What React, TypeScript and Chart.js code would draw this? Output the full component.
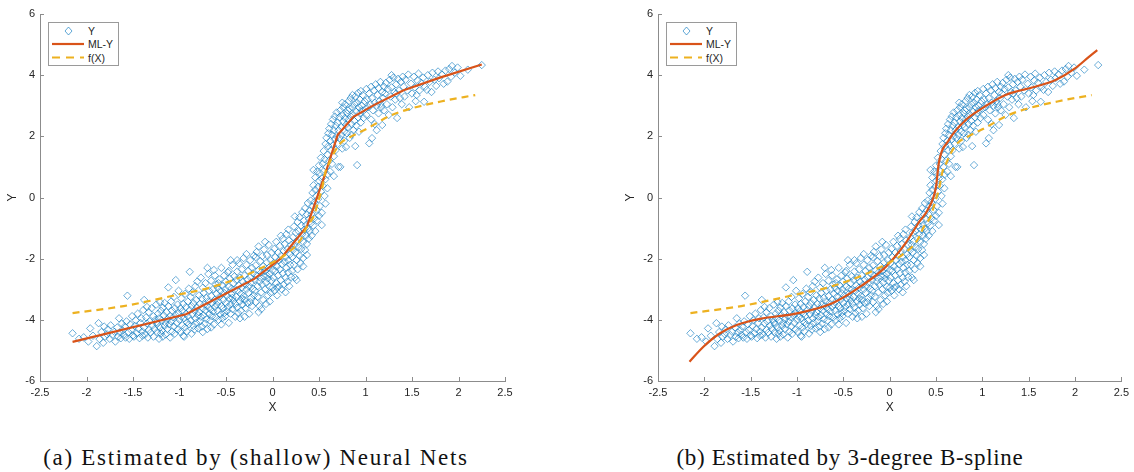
import React, { useEffect, useRef } from "react";
import { Chart, registerables } from "chart.js";

Chart.register(...registerables);

// ---------- data ----------
const xTickValues = [-2.5, -2, -1.5, -1, -0.5, 0, 0.5, 1, 1.5, 2, 2.5];
const yTickValues = [-6, -4, -2, 0, 2, 4, 6];

// observed sample (X, Y) – shared by both panels
const observedXY: [number, number][] = [
  [-2.15,-4.44],[-2.08,-4.62],[-2.03,-4.57],[-1.98,-4.71],[-1.96,-4.28],[-1.93,-4.52],[-1.89,-4.86],[-1.87,-4.11],[-1.86,-4.63],[-1.84,-4.40],[-1.82,-4.75],[-1.81,-4.22],[-1.80,-4.55],[-1.78,-4.47],
  [-1.77,-4.31],[-1.75,-4.62],[-1.74,-4.18],[-1.72,-4.50],[-1.70,-4.39],[-1.69,-4.71],[-1.67,-4.25],[-1.66,-4.55],[-1.65,-3.95],[-1.64,-4.42],[-1.63,-4.60],[-1.62,-4.12],[-1.61,-4.35],[-1.60,-4.49],
  [-1.59,-4.22],[-1.58,-4.58],[-1.57,-4.05],[-1.56,-3.21],[-1.55,-4.40],[-1.54,-4.62],[-1.53,-4.15],[-1.52,-4.33],[-1.51,-3.88],[-1.50,-4.51],[-1.49,-4.55],[-1.48,-4.20],[-1.47,-4.02],[-1.46,-4.44],[-1.45,-3.80],[-1.44,-4.30],[-1.43,-4.60],[-1.42,-4.10],[-1.41,-3.95],[-1.40,-4.38],[-1.40,-4.52],[-1.39,-3.68],
  [-1.38,-3.35],[-1.38,-4.25],[-1.37,-4.48],[-1.36,-3.92],[-1.35,-4.12],[-1.34,-4.58],[-1.33,-3.75],[-1.33,-4.33],[-1.32,-4.05],[-1.31,-4.42],[-1.30,-3.62],[-1.29,-4.18],[-1.28,-4.55],[-1.28,-3.88],[-1.27,-4.30],[-1.26,-4.00],[-1.25,-3.50],[-1.24,-4.40],[-1.24,-4.14],[-1.23,-3.80],[-1.22,-4.62],[-1.22,-3.95],[-1.21,-4.25],[-1.20,-3.70],[-1.20,-4.45],[-1.21,-3.42],[-1.25,-4.08],[-1.35,-3.58],
  [-1.19,-4.02],[-1.19,-4.35],[-1.18,-3.60],[-1.18,-4.55],[-1.17,-3.85],[-1.16,-4.20],[-1.16,-3.45],[-1.15,-4.10],[-1.15,-4.48],[-1.14,-3.75],[-1.13,-3.98],[-1.13,-4.30],[-1.12,-2.94],[-1.12,-3.55],[-1.11,-4.15],[-1.10,-3.88],[-1.10,-4.58],[-1.09,-3.40],[-1.09,-4.05],[-1.08,-3.70],[-1.08,-4.38],[-1.07,-3.92],[-1.06,-3.25],[-1.06,-4.22],[-1.05,-3.62],[-1.05,-4.45],[-1.04,-2.70],[-1.04,-3.85],[-1.03,-4.10],[-1.02,-3.50],[-1.02,-4.32],[-1.01,-3.78],[-1.01,-3.05],[-1.00,-4.00],
  [-0.99,-3.62],[-0.99,-4.40],[-0.98,-3.90],[-0.98,-3.30],[-0.97,-4.18],[-0.97,-3.72],[-0.96,-4.52],[-0.96,-3.48],[-0.95,-4.55],[-0.95,-3.95],[-0.94,-3.15],[-0.94,-4.25],[-0.93,-3.80],[-0.93,-3.58],[-0.92,-4.08],[-0.92,-4.38],[-0.91,-3.40],[-0.91,-3.88],[-0.90,-2.98],[-0.90,-4.15],[-0.89,-2.43],[-0.89,-3.68],[-0.88,-4.02],[-0.88,-3.25],[-0.87,-4.45],[-0.87,-3.55],[-0.86,-3.82],[-0.86,-3.10],[-0.85,-4.20],[-0.85,-3.45],[-0.84,-3.70],[-0.84,-4.32],[-0.83,-2.90],[-0.83,-3.95],[-0.82,-3.35],[-0.82,-4.10],[-0.81,-3.60],[-0.81,-2.75],[-0.80,-3.85],[-0.80,-4.28],
  [-0.79,-3.20],[-0.79,-3.75],[-0.78,-4.05],[-0.78,-3.48],[-0.77,-2.62],[-0.77,-3.90],[-0.76,-3.30],[-0.76,-4.22],[-0.75,-3.62],[-0.75,-2.95],[-0.74,-3.85],[-0.74,-3.12],[-0.73,-4.12],[-0.73,-3.50],[-0.72,-2.80],[-0.72,-3.70],[-0.71,-3.98],[-0.71,-3.28],[-0.70,-3.55],[-0.70,-4.30],[-0.69,-2.50],[-0.69,-3.40],[-0.68,-3.80],[-0.68,-3.05],[-0.67,-3.65],[-0.67,-4.02],[-0.66,-3.22],[-0.66,-2.72],[-0.65,-3.88],[-0.65,-3.45],[-0.64,-3.00],[-0.64,-3.72],[-0.63,-2.37],[-0.63,-4.15],[-0.62,-3.35],[-0.62,-3.58],[-0.61,-2.85],[-0.61,-3.92],[-0.60,-3.15],[-0.60,-3.50],[-0.70,-2.30],[-0.75,-4.40],[-0.66,-4.25],[-0.62,-2.55],
  [-0.59,-3.70],[-0.59,-2.95],[-0.58,-3.40],[-0.58,-4.00],[-0.57,-2.68],[-0.57,-3.25],[-0.56,-3.82],[-0.56,-3.05],[-0.55,-2.30],[-0.55,-3.55],[-0.54,-3.95],[-0.54,-2.88],[-0.53,-3.35],[-0.53,-3.62],[-0.52,-2.55],[-0.52,-3.12],[-0.51,-3.88],[-0.51,-3.00],[-0.50,-3.45],[-0.50,-2.75],[-0.49,-3.72],[-0.49,-3.20],[-0.48,-2.45],[-0.48,-3.58],[-0.47,-2.92],[-0.47,-4.10],[-0.46,-3.30],[-0.46,-2.65],[-0.45,-3.50],[-0.45,-3.80],[-0.44,-2.98],[-0.44,-3.15],[-0.43,-2.20],[-0.43,-3.65],[-0.42,-2.80],[-0.42,-3.38],[-0.41,-3.02],[-0.41,-2.58],[-0.40,-3.48],[-0.40,-3.90],[-0.55,-4.15],[-0.45,-2.05],[-0.52,-3.78],[-0.58,-2.80],[-0.43,-3.28],[-0.47,-2.40],
  [-0.39,-2.70],[-0.39,-3.25],[-0.38,-3.60],[-0.38,-2.42],[-0.37,-3.05],[-0.37,-3.78],[-0.36,-2.88],[-0.36,-2.15],[-0.35,-3.40],[-0.35,-2.62],[-0.34,-3.15],[-0.34,-3.70],[-0.33,-2.35],[-0.33,-2.95],[-0.32,-3.50],[-0.32,-2.75],[-0.31,-3.22],[-0.31,-1.98],[-0.30,-2.55],[-0.30,-3.35],[-0.29,-2.85],[-0.29,-3.62],[-0.28,-2.20],[-0.28,-3.00],[-0.27,-2.68],[-0.27,-3.45],[-0.26,-2.40],[-0.26,-3.12],[-0.25,-2.90],[-0.25,-3.80],[-0.24,-2.05],[-0.24,-2.60],[-0.23,-3.28],[-0.23,-2.78],[-0.22,-3.55],[-0.22,-2.30],[-0.21,-2.98],[-0.21,-2.48],[-0.20,-3.20],[-0.20,-1.90],[-0.35,-3.95],[-0.28,-1.85],[-0.30,-3.90],[-0.24,-3.42],[-0.38,-2.05],[-0.33,-3.30],
  [-0.19,-2.70],[-0.19,-3.05],[-0.18,-2.22],[-0.18,-3.42],[-0.17,-2.55],[-0.17,-1.78],[-0.16,-2.90],[-0.16,-3.25],[-0.15,-2.38],[-0.15,-1.60],[-0.14,-2.75],[-0.14,-3.55],[-0.13,-2.08],[-0.13,-2.62],[-0.12,-3.10],[-0.12,-2.45],[-0.11,-1.92],[-0.11,-2.85],[-0.10,-3.35],[-0.10,-2.25],[-0.09,-2.58],[-0.09,-1.70],[-0.08,-3.00],[-0.08,-2.40],[-0.07,-2.78],[-0.07,-3.48],[-0.06,-2.12],[-0.06,-1.88],[-0.05,-2.65],[-0.05,-3.20],[-0.04,-2.30],[-0.04,-1.55],[-0.03,-2.92],[-0.03,-2.50],[-0.02,-2.05],[-0.02,-3.12],[-0.01,-2.72],[-0.01,-1.80],[0.00,-2.38],[0.00,-2.95],[-0.15,-3.75],[-0.08,-1.45],[-0.12,-3.65],[-0.03,-3.40],[-0.18,-1.95],[-0.06,-2.55],
  [0.01,-2.15],[0.01,-2.62],[0.02,-1.68],[0.02,-3.05],[0.03,-2.40],[0.03,-1.95],[0.04,-2.80],[0.04,-1.45],[0.05,-2.25],[0.05,-3.20],[0.06,-1.80],[0.06,-2.55],[0.07,-2.05],[0.07,-2.90],[0.08,-1.58],[0.08,-2.35],[0.09,-2.70],[0.09,-1.90],[0.10,-2.18],[0.10,-3.00],[0.11,-1.35],[0.11,-2.48],[0.12,-1.75],[0.12,-2.85],[0.13,-2.10],[0.13,-1.52],[0.14,-2.62],[0.14,-1.95],[0.15,-2.30],[0.15,-1.20],[0.16,-2.75],[0.16,-1.70],[0.17,-2.05],[0.17,-2.45],[0.18,-1.40],[0.18,-2.90],[0.19,-1.85],[0.19,-2.20],[0.20,-1.55],[0.20,-2.60],[0.05,-2.95],[0.14,-3.10],[0.09,-1.25],[0.17,-1.05],
  [0.21,-1.95],[0.21,-2.40],[0.22,-1.30],[0.22,-1.72],[0.23,-2.20],[0.23,-0.95],[0.24,-1.55],[0.24,-2.62],[0.25,-1.80],[0.25,-1.15],[0.26,-2.05],[0.26,-1.42],[0.27,-0.80],[0.27,-2.35],[0.28,-1.62],[0.28,-1.10],[0.29,-1.90],[0.29,-0.65],[0.30,-1.35],[0.30,-2.15],[0.31,-0.92],[0.31,-1.68],[0.32,-1.20],[0.32,-0.48],[0.33,-1.98],[0.33,-1.45],[0.34,-0.75],[0.34,-1.05],[0.35,-1.72],[0.35,-0.35],[0.36,-1.25],[0.36,-0.90],[0.37,-1.52],[0.37,-0.55],[0.38,-1.02],[0.38,-0.18],[0.39,-1.35],[0.39,-0.70],[0.40,-0.42],[0.40,-1.10],[0.26,-2.70],[0.33,-2.25],[0.37,-1.88],[0.24,-0.62],
  [0.41,-0.85],[0.41,-0.10],[0.42,-0.55],[0.42,-1.25],[0.43,0.15],[0.43,-0.30],[0.44,-0.92],[0.44,0.40],[0.45,-0.15],[0.45,-0.68],[0.46,0.25],[0.46,0.65],[0.47,-0.40],[0.47,0.05],[0.48,0.85],[0.48,-0.75],[0.49,0.35],[0.49,-0.05],[0.50,1.05],[0.50,0.55],[0.51,-0.28],[0.51,0.80],[0.52,0.20],[0.52,1.30],[0.53,0.62],[0.53,-0.50],[0.54,1.10],[0.54,0.38],[0.55,1.52],[0.55,0.85],[0.56,0.05],[0.56,1.25],[0.57,1.75],[0.57,0.60],[0.58,1.00],[0.58,1.95],[0.59,1.40],[0.59,0.30],[0.60,1.68],[0.60,2.10],[0.46,-1.10],[0.53,-0.90],[0.57,-0.20],[0.44,0.90],[0.50,-0.60],[0.59,0.75],
  [0.61,1.20],[0.61,2.25],[0.62,1.85],[0.62,0.85],[0.63,1.55],[0.63,2.40],[0.64,2.05],[0.64,1.10],[0.65,1.70],[0.65,2.55],[0.66,2.20],[0.66,1.35],[0.67,1.90],[0.67,2.65],[0.68,2.35],[0.68,1.55],[0.69,2.00],[0.69,2.78],[0.70,2.45],[0.70,1.75],[0.71,1.00],[0.71,2.20],[0.72,2.62],[0.72,1.95],[0.73,2.85],[0.73,1.00],[0.74,2.30],[0.74,2.05],[0.75,2.70],[0.75,1.60],[0.76,2.48],[0.76,2.95],[0.77,2.15],[0.77,1.85],[0.78,2.60],[0.78,3.05],[0.79,2.38],[0.79,1.65],[0.80,2.75],[0.80,2.10],[0.66,0.70],[0.75,3.10],
  [0.81,2.85],[0.81,2.30],[0.82,3.15],[0.82,2.55],[0.83,1.95],[0.83,2.90],[0.84,2.65],[0.84,3.25],[0.85,2.40],[0.85,2.05],[0.86,2.95],[0.86,3.35],[0.87,2.70],[0.87,2.20],[0.88,3.05],[0.88,2.50],[0.89,1.68],[0.89,3.30],[0.90,2.80],[0.90,2.35],[0.91,1.06],[0.91,3.10],[0.92,2.62],[0.92,3.42],[0.93,2.95],[0.93,2.15],[0.94,3.20],[0.94,2.75],[0.95,3.48],[0.95,2.45],[0.96,3.00],[0.96,2.85],[0.97,3.35],[0.98,2.60],[0.99,3.15],[1.00,2.90],
  [1.01,3.55],[1.01,2.70],[1.02,3.20],[1.03,2.95],[1.04,1.77],[1.04,3.40],[1.05,3.05],[1.06,3.62],[1.06,2.55],[1.07,1.94],[1.07,3.25],[1.08,2.85],[1.09,3.50],[1.10,3.10],[1.10,2.40],[1.11,3.70],[1.12,3.00],[1.13,3.35],[1.14,2.75],[1.14,3.58],[1.15,3.15],[1.16,3.78],[1.17,2.95],[1.18,2.37],[1.18,3.45],[1.19,3.25],[1.20,3.62],[1.20,2.85],[1.12,2.20],[1.16,3.05],
  [1.21,3.40],[1.22,3.75],[1.23,3.05],[1.24,3.55],[1.25,2.70],[1.26,3.85],[1.27,3.30],[1.28,3.60],[1.29,2.95],[1.30,3.92],[1.31,3.45],[1.32,3.20],[1.33,3.70],[1.34,2.60],[1.35,3.88],[1.36,3.50],[1.37,3.25],[1.38,3.78],[1.39,3.05],[1.40,3.95],[1.33,3.40],[1.28,4.00],
  [1.41,3.62],[1.42,3.30],[1.43,3.85],[1.45,3.50],[1.46,4.02],[1.47,2.95],[1.49,3.72],[1.50,3.40],[1.52,3.95],[1.53,3.60],[1.54,3.15],[1.56,3.82],[1.57,4.05],[1.58,3.50],[1.60,3.75],[1.55,3.35],
  [1.62,3.92],[1.63,3.13],[1.64,3.62],[1.66,3.52],[1.67,4.00],[1.69,3.78],[1.71,3.45],[1.72,4.08],[1.74,3.85],[1.76,3.65],[1.78,4.12],[1.79,3.90],
  [1.82,4.02],[1.84,3.72],[1.86,4.15],[1.88,3.79],[1.90,4.20],[1.92,3.95],[1.93,4.30],[1.96,4.08],[1.99,4.25],[2.02,3.98],[2.10,4.18],[2.25,4.33],
];

// ML-Y estimated by shallow neural nets
const nnX = [-2.15, -0.93, -0.5, -0.2, 0.09, 0.37, 0.57, 0.70, 0.87, 1.09, 1.41, 1.80, 2.25];
const nnY = [-4.72, -3.82, -3.14, -2.67, -1.99, -0.95, 0.80, 2.04, 2.64, 3.02, 3.51, 3.92, 4.35];

// ML-Y estimated by 3-degree B-spline
const splineX = [-2.16, -2.01, -1.83, -1.65, -1.40, -1.0, -0.62, -0.29, -0.04, 0.17, 0.32, 0.41, 0.50, 0.53, 0.64, 0.82, 1.0, 1.25, 1.57, 1.79, 2.0, 2.15, 2.24];
const splineY = [-5.37, -4.88, -4.44, -4.17, -3.97, -3.79, -3.46, -2.86, -2.26, -1.50, -0.79, -0.41, 0.35, 1.12, 1.88, 2.53, 2.92, 3.35, 3.62, 3.84, 4.22, 4.60, 4.82];

// true f(X)
const fX = [-2.15, -1.6, -0.99, -0.70, -0.33, 0.05, 0.16, 0.30, 0.37, 0.44, 0.50, 0.53, 0.57, 0.61, 0.66, 0.73, 0.85, 1.02, 1.27, 1.48, 1.81, 2.18];
const fY = [-3.78, -3.55, -3.16, -2.97, -2.59, -2.04, -1.82, -1.39, -0.95, -0.63, -0.05, 0.25, 0.85, 1.12, 1.45, 1.77, 2.00, 2.26, 2.68, 2.90, 3.14, 3.35];

const legendLabels = ["Y", "ML-Y", "f(X)"];
const captionA = "(a) Estimated by (shallow) Neural Nets";
const captionB = "(b) Estimated by 3-degree B-spline";

// ---------- styles ----------
const BLUE = "rgba(0,114,189,0.78)";
const RED = "#D95319";
const YELLOW = "#EDB120";
const AXIS = "#8c8c8c";
const TXT = "#262626";
const SANS = "'Liberation Sans', Arial, Helvetica, sans-serif";

const CANVAS_W = 567;
const CANVAS_H = 421;

const inwardTicks = {
  id: "inwardTicks",
  afterDatasetsDraw(chart: any) {
    const { ctx, chartArea: a, scales } = chart;
    const xs = scales.x;
    const ys = scales.y;
    ctx.save();
    ctx.strokeStyle = AXIS;
    ctx.lineWidth = 1;
    ctx.beginPath();
    for (const v of xTickValues) {
      const px = Math.round(xs.getPixelForValue(v)) + 0.5;
      ctx.moveTo(px, a.bottom);
      ctx.lineTo(px, a.bottom - 4);
    }
    for (const v of yTickValues) {
      const py = Math.round(ys.getPixelForValue(v)) + 0.5;
      ctx.moveTo(a.left, py);
      ctx.lineTo(a.left + 4, py);
    }
    ctx.stroke();
    ctx.restore();
  },
};

function toPoints(xs: number[], ys: number[]) {
  return xs.map((x, i) => ({ x, y: ys[i] }));
}

type PanelProps = {
  left: number;
  padLeft: number;
  padRight: number;
  mlX: number[];
  mlY: number[];
  smooth: boolean;
};

function Panel({ left, padLeft, padRight, mlX, mlY, smooth }: PanelProps) {
  const ref = useRef<HTMLCanvasElement>(null);
  useEffect(() => {
    const chart = new Chart(ref.current as HTMLCanvasElement, {
      type: "scatter",
      data: {
        datasets: [
          {
            label: legendLabels[0],
            data: observedXY.map(([x, y]) => ({ x, y })),
            pointStyle: "rectRot",
            pointRadius: 3.7,
            pointBorderColor: BLUE,
            pointBackgroundColor: "rgba(0,0,0,0)",
            pointBorderWidth: 0.75,
            borderColor: BLUE,
            backgroundColor: "rgba(0,0,0,0)",
            showLine: false,
            order: 3,
          } as any,
          {
            label: legendLabels[1],
            data: toPoints(mlX, mlY),
            showLine: true,
            borderColor: RED,
            borderWidth: 2.2,
            pointRadius: 0,
            fill: false,
            cubicInterpolationMode: smooth ? "monotone" : "default",
            tension: 0,
            order: 2,
          } as any,
          {
            label: legendLabels[2],
            data: toPoints(fX, fY),
            showLine: true,
            borderColor: YELLOW,
            borderWidth: 2.2,
            borderDash: [7, 5],
            pointRadius: 0,
            fill: false,
            cubicInterpolationMode: "monotone",
            order: 1,
          } as any,
        ],
      },
      options: {
        responsive: false,
        animation: false,
        events: [],
        layout: { padding: { left: padLeft, right: padRight, top: 14, bottom: 0 } },
        plugins: { legend: { display: false }, tooltip: { enabled: false } },
        scales: {
          x: {
            type: "linear",
            min: -2.5,
            max: 2.5,
            afterBuildTicks: (s: any) => {
              s.ticks = xTickValues.map((v) => ({ value: v }));
            },
            afterFit: (s: any) => {
              s.height = 40;
            },
            grid: { display: false, drawTicks: false },
            border: { display: true, color: AXIS, width: 1 },
            ticks: {
              color: TXT,
              font: { family: SANS, size: 11 },
              padding: 5,
              maxRotation: 0,
              autoSkip: false,
              callback: (v: any) => String(v),
            },
            title: {
              display: true,
              text: "X",
              color: TXT,
              font: { family: SANS, size: 12 },
              padding: { top: 0, bottom: 6 },
            },
          },
          y: {
            type: "linear",
            min: -6,
            max: 6,
            afterBuildTicks: (s: any) => {
              s.ticks = yTickValues.map((v) => ({ value: v }));
            },
            afterFit: (s: any) => {
              s.width = 40;
            },
            grid: { display: false, drawTicks: false },
            border: { display: true, color: AXIS, width: 1 },
            ticks: {
              color: TXT,
              font: { family: SANS, size: 11 },
              padding: 5,
              autoSkip: false,
              callback: (v: any) => String(v),
            },
            title: {
              display: true,
              text: "Y",
              color: TXT,
              font: { family: SANS, size: 12 },
              padding: { top: 5, bottom: 0 },
            },
          },
        },
      } as any,
      plugins: [inwardTicks],
    });
    return () => chart.destroy();
  }, []);

  return (
    <canvas
      ref={ref}
      width={CANVAS_W}
      height={CANVAS_H}
      style={{ position: "absolute", left, top: 0, width: CANVAS_W, height: CANVAS_H }}
    />
  );
}

function Legend({ left }: { left: number }) {
  const rowStyle = (top: number): React.CSSProperties => ({
    position: "absolute",
    left: 39,
    top: top - 7,
    height: 14,
    lineHeight: "14px",
    fontFamily: SANS,
    fontSize: 10.5,
    color: TXT,
    whiteSpace: "nowrap",
  });
  return (
    <div
      style={{
        position: "absolute",
        left,
        top: 22,
        width: 71,
        height: 44,
        boxSizing: "border-box",
        border: "1px solid #9a9a9a",
        background: "#fff",
      }}
    >
      <svg width={71} height={44} style={{ position: "absolute", left: -1, top: -1 }}>
        <path d="M20.5 5 L24 9 L20.5 13 L17 9 Z" fill="none" stroke={BLUE} strokeWidth={0.8} />
        <line x1={4} y1={22} x2={36} y2={22} stroke={RED} strokeWidth={2.2} />
        <line x1={4} y1={35.5} x2={36} y2={35.5} stroke={YELLOW} strokeWidth={2.2} strokeDasharray="8 6" />
      </svg>
      <div style={rowStyle(8)}>{legendLabels[0]}</div>
      <div style={rowStyle(21)}>{legendLabels[1]}</div>
      <div style={rowStyle(34.5)}>{legendLabels[2]}</div>
    </div>
  );
}

function Caption({ center, text, spacing }: { center: number; text: string; spacing: number }) {
  return (
    <div
      style={{
        position: "absolute",
        left: center - 300,
        width: 600,
        top: 446,
        textAlign: "center",
        fontFamily: "'Liberation Serif', 'Times New Roman', serif",
        fontSize: 23,
        lineHeight: "23px",
        letterSpacing: spacing,
        color: "#111",
        whiteSpace: "nowrap",
      }}
    >
      {text}
    </div>
  );
}

export default function App() {
  return (
    <div
      style={{
        position: "absolute",
        left: 0,
        top: 0,
        width: 1134,
        height: 472,
        background: "#fff",
        overflow: "hidden",
      }}
    >
      <Panel left={0} padLeft={0} padRight={62} mlX={nnX} mlY={nnY} smooth={false} />
      <Panel left={567} padLeft={51} padRight={11} mlX={splineX} mlY={splineY} smooth={true} />
      <Legend left={48} />
      <Legend left={666} />
      <Caption center={256} text={captionA} spacing={1.7} />
      <Caption center={850} text={captionB} spacing={0.7} />
    </div>
  );
}
